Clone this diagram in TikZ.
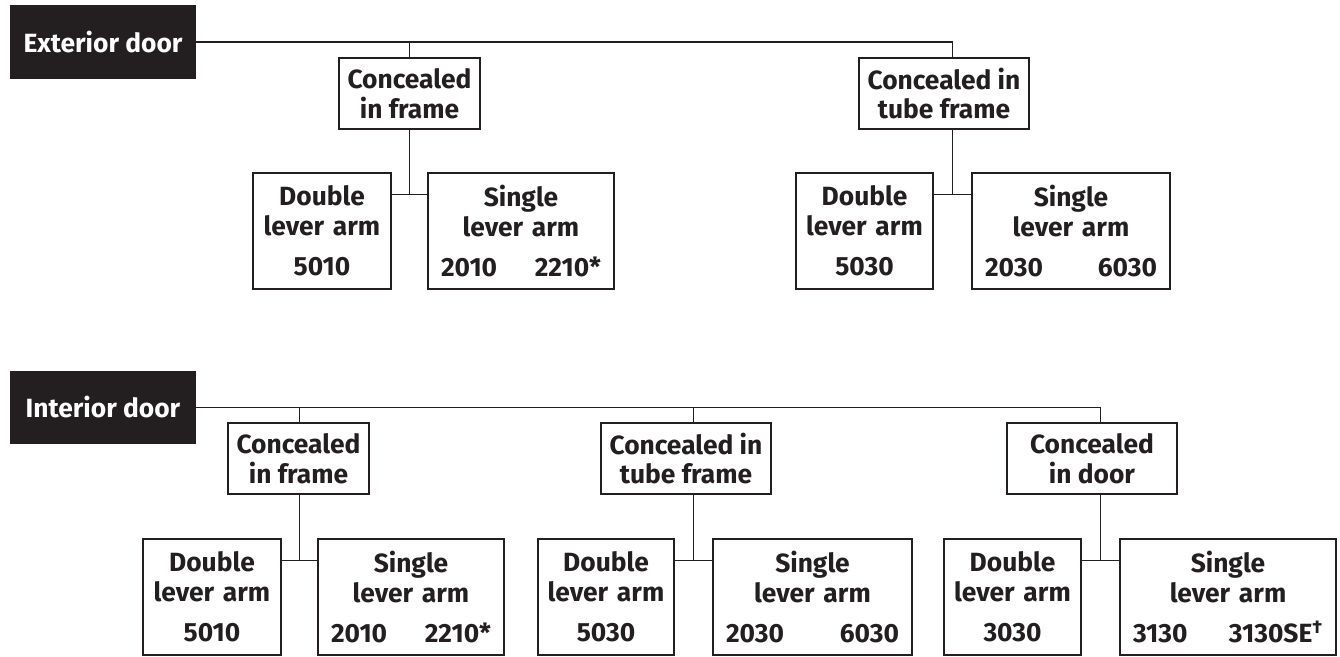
\documentclass[tikz,border=0pt]{standalone}
\usepackage{fontspec}
\setmainfont{Fira Sans}
\usepackage{tikz}
\usetikzlibrary{calc}
\usepackage{xcolor}
\definecolor{ink}{HTML}{231F20}

\newcommand{\boxfont}{\bfseries\fontsize{15}{17}\selectfont}

\begin{document}
\begin{tikzpicture}[scale=1,
  doorbox/.style={fill=ink, text=white, minimum width=3.72cm, minimum height=1.46cm, inner sep=0pt, font=\boxfont},
  typebox/.style={draw=ink, line width=0.75pt, fill=white, text=ink, minimum width=#1, minimum height=1.42cm, inner sep=0pt, align=center, font=\boxfont},
  modelbox/.style={draw=ink, line width=0.75pt, fill=white, text=ink, text width=#1, inner xsep=0.26cm, minimum height=2.32cm, align=center, font=\boxfont},
  dblbox/.style={modelbox=#1, inner xsep=0.08cm},
  link/.style={draw=ink, line width=0.75pt}]

\useasboundingbox (0,0) rectangle (26.8,13.12);

% Exterior door
\node[doorbox] (ext) at (2.06,12.28) {Exterior door};

\node[typebox=2.82cm] (cif1) at (8.19,11.25) {Concealed\\in frame};
\node[typebox=3.40cm] (ctf1) at (18.88,11.25) {Concealed in\\tube frame};

\node[dblbox=2.60cm] (dla1) at (6.44,8.50) {Double\\lever arm\\[6pt]5010};
\node[modelbox=3.20cm] (sla1) at (10.42,8.50) {Single\\lever arm\\[6pt]2010\hfill 2210*};
\node[dblbox=2.58cm] (dla2) at (17.29,8.50) {Double\\lever arm\\[6pt]5030};
\node[modelbox=3.44cm] (sla2) at (21.42,8.50) {Single\\lever arm\\[6pt]2030\hfill 6030};

% Interior door
\node[doorbox] (int) at (2.06,4.97) {Interior door};

\node[typebox=2.82cm] (cif2) at (5.97,3.95) {Concealed\\in frame};
\node[typebox=3.40cm] (ctf2) at (13.72,3.95) {Concealed in\\tube frame};
\node[typebox=3.40cm] (cid) at (21.84,3.95) {Concealed\\in door};

\node[dblbox=2.60cm] (dla3) at (4.24,1.18) {Double\\lever arm\\[6pt]5010};
\node[modelbox=3.20cm] (sla3) at (8.22,1.18) {Single\\lever arm\\[6pt]2010\hfill 2210*};
\node[dblbox=2.56cm] (dla4) at (12.12,1.18) {Double\\lever arm\\[6pt]5030};
\node[modelbox=3.46cm] (sla4) at (16.25,1.18) {Single\\lever arm\\[6pt]2030\hfill 6030};
\node[dblbox=2.58cm] (dla5) at (20.25,1.18) {Double\\lever arm\\[6pt]3030};
\node[modelbox=3.80cm] (sla5) at (24.56,1.18) {Single\\lever arm\\[6pt]3130\hfill 3130SE\textsuperscript{†}};

% Junctions between the two arms
\coordinate (j1) at ($(dla1.north east)!0.5!(sla1.north west)+(0,-0.44)$);
\coordinate (j2) at ($(dla2.north east)!0.5!(sla2.north west)+(0,-0.44)$);
\coordinate (j3) at ($(dla3.north east)!0.5!(sla3.north west)+(0,-0.44)$);
\coordinate (j4) at ($(dla4.north east)!0.5!(sla4.north west)+(0,-0.44)$);
\coordinate (j5) at ($(dla5.north east)!0.5!(sla5.north west)+(0,-0.44)$);

% Connectors, exterior
\draw[link] (ext.east) -| (j2 |- ctf1.north);
\draw[link] (j1 |- ext.east) -- (j1 |- cif1.north);
\draw[link] (j1 |- cif1.south) -- (j1);
\draw[link] (j2 |- ctf1.south) -- (j2);
\draw[link] (dla1.east |- j1) -- (sla1.west |- j1);
\draw[link] (dla2.east |- j2) -- (sla2.west |- j2);

% Connectors, interior
\draw[link] (int.east) -| (j5 |- cid.north);
\draw[link] (j3 |- int.east) -- (j3 |- cif2.north);
\draw[link] (j4 |- int.east) -- (j4 |- ctf2.north);
\draw[link] (j3 |- cif2.south) -- (j3);
\draw[link] (j4 |- ctf2.south) -- (j4);
\draw[link] (j5 |- cid.south) -- (j5);
\draw[link] (dla3.east |- j3) -- (sla3.west |- j3);
\draw[link] (dla4.east |- j4) -- (sla4.west |- j4);
\draw[link] (dla5.east |- j5) -- (sla5.west |- j5);

\end{tikzpicture}
\end{document}
